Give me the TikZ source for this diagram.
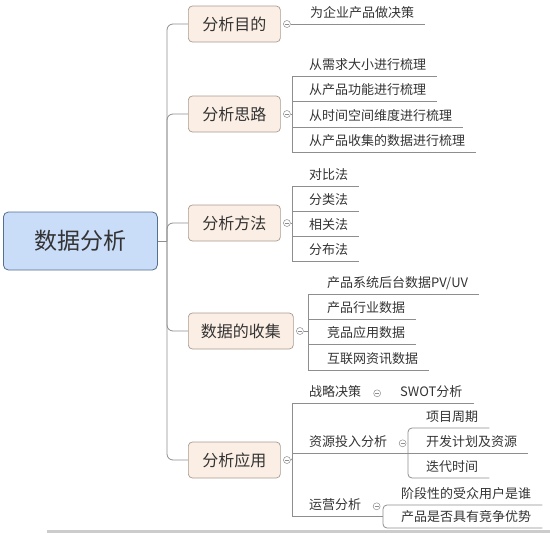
\documentclass[tikz,border=0pt]{standalone}
\usepackage{fontspec}
\setmainfont{Noto Sans CJK SC}
\usetikzlibrary{positioning}
\definecolor{rootfill}{HTML}{C9DCF8}
\definecolor{rootline}{HTML}{55708F}
\definecolor{boxfill}{HTML}{FBEEE4}
\definecolor{boxline}{HTML}{A99B8F}
\definecolor{wirec}{HTML}{8E8E8E}
\definecolor{txt}{HTML}{333333}

\begin{document}
\begin{tikzpicture}[x=1pt,y=-1pt,
   wire/.style={draw=wirec,line width=0.8pt},
   root/.style={draw=rootline,fill=rootfill,rounded corners=5pt,line width=0.8pt,
     minimum width=154pt,minimum height=58pt,font=\fontsize{23}{26}\selectfont,text=txt,anchor=west},
   topic/.style={draw=boxline,fill=boxfill,rounded corners=4pt,line width=0.7pt,
     minimum width=92pt,minimum height=36pt,inner xsep=12.5pt,font=\fontsize{16}{18}\selectfont,text=txt,anchor=west},
   leaf/.style={anchor=south west,inner xsep=11pt,inner ysep=3pt,text height=10pt,text depth=3pt,
     font=\fontsize{13}{15}\selectfont,text=txt},
   fold/.style={circle,draw=wirec,fill=white,line width=0.5pt,minimum size=7pt,inner sep=0pt,
     path picture={\draw[wirec,line width=0.5pt] ([xshift=-2pt]path picture bounding box.center)
       -- ([xshift=2pt]path picture bounding box.center);}}]

\useasboundingbox (0,0) rectangle (550,533);
\fill[gray!40] (47,530) rectangle (550,533);

\node[root] (root) at (3,241) {数据分析};
\coordinate (trunk) at (167,241);
\node[topic] (aim) at (188,24) {分析目的};
\node[topic] (idea) at (188,114) {分析思路};
\node[topic] (way) at (188,223) {分析方法};
\node[topic] (data) at (188,331) {数据的收集};
\node[topic] (use) at (188,460) {分析应用};

\draw[wire] (root.east) -- (trunk);
\foreach \b in {aim,idea,way,data,use}{
  \draw[wire,rounded corners=6pt] (trunk) |- (\b.west);
  \node[fold,right=2.5pt of \b] (\b-f) {};
}

\node[leaf] (aim1) at (299,24) {为企业产品做决策};
\draw[wire] (aim-f.east) -- (aim1.south east);

\coordinate (idea-k) at (292,114);
\foreach \y/\t [count=\i] in {76/从需求大小进行梳理,101/从产品功能进行梳理,127/从时间空间维度进行梳理,152/从产品收集的数据进行梳理}
  \node[leaf] (idea\i) at (298,\y) {\t};

\coordinate (way-k) at (292,223);
\foreach \y/\t [count=\i] in {186/对比法,211/分类法,236/相关法,261/分布法}
  \node[leaf] (way\i) at (298,\y) {\t};

\coordinate (data-k) at (308,331);
\foreach \y/\t [count=\i] in {294/{产品系统后台数据PV/UV},319/产品行业数据,344/竞品应用数据,370/互联网资讯数据}
  \node[leaf] (data\i) at (316,\y) {\t};

\foreach \b in {idea,way,data}{
  \draw[wire] (\b-f.east) -- (\b-k);
  \draw[wire] (\b1.south -| \b-k) -- (\b4.south -| \b-k);
  \foreach \i in {1,...,4}
    \draw[wire] (\b\i.south -| \b-k) -- (\b\i.south east);
}

\coordinate (use-k) at (292,459);
\node[leaf] (use1) at (298,403) {战略决策};
\node[leaf] (use2) at (298,453) {资源投入分析};
\node[leaf] (use3) at (298,516) {运营分析};
\draw[wire] (use-f.east) -- (use-k);
\draw[wire] (use1.south -| use-k) -- (use3.south -| use-k);

\node[fold,right=1pt of use1] (use1-f) {};
\node[leaf] (swot) at (389,403) {SWOT分析};
\draw[wire] (use1.south -| use-k) -- (swot.south east);

\node[fold,right=0.5pt of use2] (use2-f) {};
\coordinate (res-k) at (408,453);
\node[leaf] (res1) at (415,428) {项目周期};
\node[leaf] (res2) at (415,453) {开发计划及资源};
\node[leaf] (res3) at (415,478) {迭代时间};
\draw[wire] (use2.south -| use-k) -- (res2.south east);
\draw[wire,rounded corners=4pt] (res1.south east) -- (res1.south -| res-k)
  -- (res3.south -| res-k) -- (res3.south east);

\node[fold,right=0.5pt of use3] (use3-f) {};
\coordinate (ops-k) at (383,516);
\node[leaf] (ops1) at (390,505) {阶段性的受众用户是谁};
\node[leaf] (ops2) at (390,528) {产品是否具有竞争优势};
\draw[wire] (use3.south -| use-k) -- (use3.south -| ops-k);
\draw[wire,rounded corners=4pt] (ops1.south east) -- (ops1.south -| ops-k)
  -- (ops2.south -| ops-k) -- (ops2.south east);
\end{tikzpicture}
\end{document}
